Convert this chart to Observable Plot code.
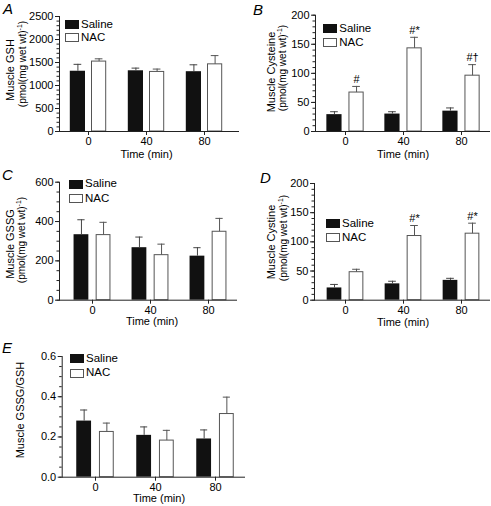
<!DOCTYPE html>
<html><head><meta charset="utf-8">
<script src="https://cdn.jsdelivr.net/npm/d3@7"></script>
<script src="https://cdn.jsdelivr.net/npm/@observablehq/plot@0.6"></script>
<style>
body{margin:0;background:#fff;}
#root{position:relative;width:491px;height:506px;font-family:"Liberation Sans",Arial,sans-serif;color:#000;overflow:hidden;background:#fff}
.abs{position:absolute;white-space:nowrap;line-height:1}
.letter{font-style:italic;font-size:15px}
.ctr{transform:translate(-50%,-50%)}
.ylab{transform:translate(-50%,-50%) rotate(-90deg)}
.sw{position:absolute;width:11.5px;height:6.5px;border:1px solid #333}
.lt{font-size:11.5px}
sup{font-size:7px;vertical-align:4px;line-height:0}
</style></head>
<body><div id="root"></div>
<script>
// ---- data ----
const times = ["0", "40", "80"];
const groups = ["Saline", "NAC"];

const gshSaline = [1310, 1320, 1300];
const gshSalineSem = [150, 58, 150];
const gshNac = [1520, 1295, 1460];
const gshNacSem = [60, 62, 190];

const cysSaline = [29, 30, 35];
const cysSalineSem = [5, 4, 5.5];
const cysNac = [67, 143, 96];
const cysNacSem = [10.5, 19, 19];
const cysNotes = ["#", "#*", "#\u2020"];

const gssgSaline = [333, 267, 224];
const gssgSalineSem = [76, 54, 43];
const gssgNac = [331, 229, 348];
const gssgNacSem = [65, 56, 68];

const cystSaline = [21, 28, 34];
const cystSalineSem = [6, 4.5, 3.5];
const cystNac = [48, 110, 114];
const cystNacSem = [5, 18, 18];
const cystNotes = ["", "#*", "#*"];

const ratioSaline = [0.279, 0.208, 0.19];
const ratioSalineSem = [0.055, 0.042, 0.045];
const ratioNac = [0.225, 0.182, 0.314];
const ratioNacSem = [0.044, 0.051, 0.084];

const gshTicks = [0, 500, 1000, 1500, 2000, 2500];
const cysTicks = [0, 50, 100, 150, 200];
const gssgTicks = [0, 200, 400, 600];
const ratioTicks = [0, 0.2, 0.4, 0.6];

const xTitle = "Time (min)";
const unitLine = "(pmol(mg wet wt)<sup>-1</sup>)";

// ---- panels ----
const panels = [
  {letter:"A", lx:3, ly:1, left:0, top:0, w:245, h:160, ml:59, mr:6, mt:16, mb:29, xr:[58.35,233.25],
   sal:gshSaline, salSem:gshSalineSem, nac:gshNac, nacSem:gshNacSem, notes:null,
   ticks:gshTicks, minor:100, fmt:d3.format("d"), gap:5.7, bw:15.5,
   t1:"Muscle GSH", t1x:10, t1y:70, t2x:23, t2y:64, tx:146.5, ty:154, leg:[65,20.3,13]},
  {letter:"B", lx:253, ly:2, left:245, top:0, w:246, h:160, ml:70, mr:1, mt:14.7, mb:29, xr:[70.85,245.75],
   sal:cysSaline, salSem:cysSalineSem, nac:cysNac, nacSem:cysNacSem, notes:cysNotes,
   ticks:cysTicks, minor:10, fmt:d3.format("d"), gap:6.6, bw:15.5,
   t1:"Muscle Cysteine", t1x:271, t1y:72, t2x:283, t2y:68, tx:403, ty:154, leg:[323.3,24.3,14]},
  {letter:"C", lx:2, ly:167.3, left:0, top:165, w:245, h:160, ml:59, mr:8, mt:16.7, mb:25.3, xr:[61.65,237.75],
   sal:gssgSaline, salSem:gssgSalineSem, nac:gssgNac, nacSem:gssgNacSem, notes:null,
   ticks:gssgTicks, minor:50, fmt:d3.format("d"), gap:6.6, bw:15.5,
   t1:"Muscle GSSG", t1x:10, t1y:244, t2x:22, t2y:240, tx:152, ty:321, leg:[69,180,14.3]},
  {letter:"D", lx:260, ly:170.3, left:245, top:165, w:246, h:160, ml:69, mr:1, mt:18, mb:25.3, xr:[70.55,245.45],
   sal:cystSaline, salSem:cystSalineSem, nac:cystNac, nacSem:cystNacSem, notes:cystNotes,
   ticks:cysTicks, minor:10, fmt:d3.format("d"), gap:7, bw:15,
   t1:"Muscle Cystine", t1x:271, t1y:242, t2x:284, t2y:238, tx:403, ty:321.5, leg:[326,219.3,14]},
  {letter:"E", lx:2, ly:340, left:0, top:330, w:250, h:176, ml:61.7, mr:5, mt:26, mb:29.3, xr:[63.75,246.45],
   sal:ratioSaline, salSem:ratioSalineSem, nac:ratioNac, nacSem:ratioNacSem, notes:null,
   ticks:ratioTicks, minor:0.05, fmt:d3.format(".1f"), gap:7, bw:15.7,
   t1:"Muscle GSSG/GSH", t1x:20, t1y:410, t2x:null, tx:159, ty:498, leg:[70,354.3,14.7]}
];

const root = document.getElementById("root");
function addDiv(cls, html, x, y, style) {
  const d = document.createElement("div");
  d.className = "abs " + cls;
  d.innerHTML = html;
  d.style.left = x + "px";
  d.style.top = y + "px";
  if (style) Object.assign(d.style, style);
  root.appendChild(d);
  return d;
}

for (const p of panels) {
  const sal = times.map((t, i) => ({time: t, group: groups[0], mean: p.sal[i], sem: p.salSem[i]}));
  const nac = times.map((t, i) => ({time: t, group: groups[1], mean: p.nac[i], sem: p.nacSem[i], note: p.notes ? p.notes[i] : ""}));
  const step = (p.xr[1] - p.xr[0]) / times.length;
  const half = step / 2;
  const off = p.gap / 2 + p.bw / 2;
  const cap = 4;
  const ymax = p.ticks[p.ticks.length - 1];
  const minorTicks = d3.range(0, ymax + p.minor / 2, p.minor);
  const axisColor = "#222";
  const chart = Plot.plot({
    width: p.w, height: p.h,
    marginLeft: p.ml, marginRight: p.mr, marginTop: p.mt, marginBottom: p.mb,
    style: {fontFamily: '"Liberation Sans", Arial, sans-serif', fontSize: "11px", color: "#000", background: "transparent", overflow: "visible"},
    x: {type: "band", domain: times, range: p.xr, padding: 0},
    y: {domain: [0, ymax]},
    marks: [
      Plot.barY(sal, {x: "time", y: "mean", fill: "#111",
        insetLeft: half - off - p.bw / 2, insetRight: half + off - p.bw / 2}),
      Plot.barY(nac, {x: "time", y: "mean", fill: "#fff", stroke: "#555", strokeWidth: 1,
        insetLeft: half + off - p.bw / 2 + 0.5, insetRight: half - off - p.bw / 2 + 0.5}),
      Plot.ruleX(sal, {x: "time", y1: "mean", y2: d => d.mean + d.sem, dx: -off, stroke: "#444"}),
      Plot.tickY(sal, {x: "time", y: d => d.mean + d.sem, stroke: "#444",
        insetLeft: half - off - cap, insetRight: half + off - cap}),
      Plot.ruleX(nac, {x: "time", y1: "mean", y2: d => d.mean + d.sem, dx: off, stroke: "#555"}),
      Plot.tickY(nac, {x: "time", y: d => d.mean + d.sem, stroke: "#555",
        insetLeft: half + off - cap, insetRight: half - off - cap}),
      Plot.text(nac.filter(d => d.note), {x: "time", y: d => d.mean + d.sem, text: "note", dx: off, dy: -7, fontSize: 11}),
      Plot.ruleY([0], {stroke: axisColor}),
      Plot.frame({anchor: "left", stroke: axisColor}),
      Plot.axisY({ticks: minorTicks, tickSize: 2.5, text: null, label: null, stroke: axisColor}),
      Plot.axisY({ticks: p.ticks, tickSize: 4, tickPadding: 2, tickFormat: p.fmt, label: null, stroke: axisColor, fontSize: 11}),
      Plot.axisX({tickSize: 4, tickPadding: 2, label: null, stroke: axisColor, fontSize: 11})
    ]
  });
  const holder = document.createElement("div");
  holder.className = "abs";
  holder.style.left = p.left + "px";
  holder.style.top = p.top + "px";
  holder.appendChild(chart);
  root.appendChild(holder);

  // panel letter
  addDiv("letter", p.letter, p.lx, p.ly);
  // y titles
  addDiv("ylab", p.t1, p.t1x, p.t1y, {fontSize: "11px"});
  if (p.t2x != null) addDiv("ylab", unitLine, p.t2x, p.t2y, {fontSize: "10px"});
  // x title
  addDiv("ctr", xTitle, p.tx, p.ty, {fontSize: "11px"});
  // legend
  const [lx, ly, sp] = p.leg;
  groups.forEach((g, i) => {
    const s = document.createElement("div");
    s.className = "sw";
    s.style.left = lx + "px";
    s.style.top = (ly + i * sp) + "px";
    s.style.background = i === 0 ? "#111" : "#fff";
    s.style.borderColor = i === 0 ? "#111" : "#555";
    root.appendChild(s);
    addDiv("lt", g, lx + 16, ly + i * sp + 4.2, {transform: "translateY(-50%)"});
  });
}
</script>
</body></html>
